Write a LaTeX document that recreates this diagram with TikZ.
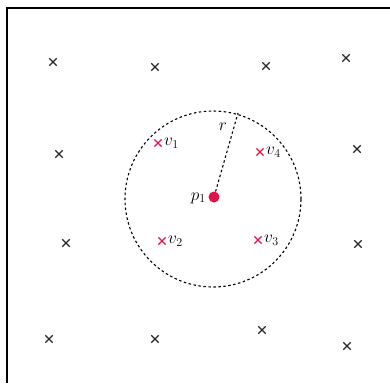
\documentclass[tikz,border=0pt]{standalone}
\usepackage{tikz}
\usetikzlibrary{shapes.misc,positioning}
\definecolor{ptred}{RGB}{226,18,72}
\tikzset{
  grid pt/.style={cross out, draw=black!85, line width=1.3pt, minimum size=6pt, inner sep=0pt},
  near pt/.style={cross out, draw=ptred, line width=1.2pt, minimum size=6pt, inner sep=0pt},
  range line/.style={dash pattern=on 2.5pt off 2.5pt, line width=1.1pt},
}
\begin{document}
\begin{tikzpicture}[x=1pt, y=-1pt, font=\fontsize{17}{19}\selectfont]
  \useasboundingbox (0,0) rectangle (390,383);
  % frame
  \draw[line width=1.4pt] (7,383) -- (7,8) -- (390,8);
  % points far from the query
  \foreach \n/\x/\y in {a/53/62, b/155/67, c/266/66, d/346/58,
                        e/59/154, f/357/149, g/66/243, h/358/244,
                        i/49/339, j/155/339, k/262/330, l/347/346}
    \node[grid pt] (g\n) at (\x,\y) {};
  % query point and its range
  \node[circle, fill=ptred, inner sep=0pt, minimum size=11pt] (p1) at (214,197) {};
  \node[left=-1pt of p1, yshift=-1pt] {$p_{1}$};
  \draw[range line] (213,199) circle (88pt);
  \coordinate (rim) at (238,113);
  \draw[range line] (p1) -- (rim) node[pos=0.82, left=3pt] {$r$};
  % points inside the range
  \node[near pt] (v1) at (158,143) {};
  \node[near pt] (v4) at (260,152) {};
  \node[near pt] (v2) at (162,241) {};
  \node[near pt] (v3) at (258,240) {};
  \node[right=-1pt of v1] {$v_{1}$};
  \node[right=-1pt of v4] {$v_{4}$};
  \node[right=-1pt of v2] {$v_{2}$};
  \node[right=-1pt of v3] {$v_{3}$};
\end{tikzpicture}
\end{document}
